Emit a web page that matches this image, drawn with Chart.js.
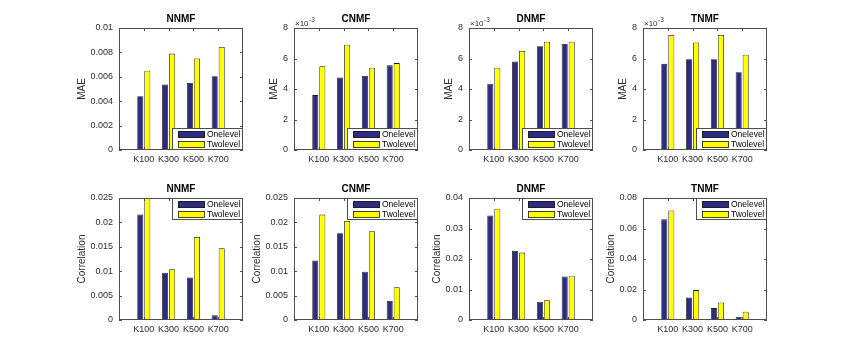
<!DOCTYPE html>
<html>
<head>
<meta charset="utf-8">
<script src="https://cdn.jsdelivr.net/npm/chart.js@4/dist/chart.umd.min.js"></script>
<style>
  html, body { margin: 0; padding: 0; background: #ffffff; }
  #root { position: relative; width: 848px; height: 360px; overflow: hidden; background: #ffffff; }
  #root canvas { position: absolute; }
</style>
</head>
<body>
<div id="root"></div>
<script>
// ---------- data ----------
const categories = ['K100', 'K300', 'K500', 'K700'];
const seriesNames = ['Onelevel', 'Twolevel'];
const methods = ['NNMF', 'CNMF', 'DNMF', 'TNMF'];

const maeOneNNMF = [0.0044, 0.00537, 0.0055, 0.00605];
const maeTwoNNMF = [0.0065, 0.0079, 0.0075, 0.00845];
const maeOneCNMF = [0.0036, 0.00475, 0.00485, 0.00555];
const maeTwoCNMF = [0.0055, 0.0069, 0.0054, 0.0057];
const maeOneDNMF = [0.00435, 0.0058, 0.0068, 0.00695];
const maeTwoDNMF = [0.0054, 0.0065, 0.0071, 0.0071];
const maeOneTNMF = [0.00565, 0.00595, 0.00595, 0.0051];
const maeTwoTNMF = [0.00755, 0.00705, 0.00755, 0.00625];

const corOneNNMF = [0.0216, 0.0097, 0.0087, 0.00095];
const corTwoNNMF = [0.0252, 0.0104, 0.0170, 0.0147];
const corOneCNMF = [0.0122, 0.0178, 0.0099, 0.0039];
const corTwoCNMF = [0.0216, 0.0203, 0.0182, 0.0067];
const corOneDNMF = [0.0343, 0.0226, 0.0060, 0.0143];
const corTwoDNMF = [0.0365, 0.0221, 0.0065, 0.0145];
const corOneTNMF = [0.066, 0.0148, 0.0078, 0.0022];
const corTwoTNMF = [0.0718, 0.0196, 0.0115, 0.0054];

// tick values and their labels
const maeTicksNNMF = [0, 0.002, 0.004, 0.006, 0.008, 0.01];
const maeTickLabelsNNMF = ['0', '0.002', '0.004', '0.006', '0.008', '0.01'];
const maeTicksE3 = [0, 0.002, 0.004, 0.006, 0.008];
const maeTickLabelsE3 = ['0', '2', '4', '6', '8'];
const corTicksSmall = [0, 0.005, 0.01, 0.015, 0.02, 0.025];
const corTickLabelsSmall = ['0', '0.005', '0.01', '0.015', '0.02', '0.025'];
const corTicksDNMF = [0, 0.01, 0.02, 0.03, 0.04];
const corTickLabelsDNMF = ['0', '0.01', '0.02', '0.03', '0.04'];
const corTicksTNMF = [0, 0.02, 0.04, 0.06, 0.08];
const corTickLabelsTNMF = ['0', '0.02', '0.04', '0.06', '0.08'];

const exponentBase = '\u00d710';
const exponentPower = '-3';

// ---------- style / layout ----------
const FONT = '"Liberation Sans", Arial, Helvetica, sans-serif';
const TXT = '#2b2b2b';
const AXC = '#4d4d4d';
const ONE_COLOR = 'rgb(46,43,128)';
const TWO_COLOR = 'rgb(255,255,0)';
const EDGE = '#1a1a1a';

const AXW = 124, AXH = 122;
const colLeft = [119, 294, 469, 643];
const rowTop = [28, 198];
const PADL = 60, PADT = 30, PADR = 6, PADB = 26;

const panels = [
  { row: 0, col: 0, title: methods[0], ylabel: 'MAE', one: maeOneNNMF, two: maeTwoNNMF, ticks: maeTicksNNMF, tickLabels: maeTickLabelsNNMF, exp: false, legend: 'se' },
  { row: 0, col: 1, title: methods[1], ylabel: 'MAE', one: maeOneCNMF, two: maeTwoCNMF, ticks: maeTicksE3, tickLabels: maeTickLabelsE3, exp: true, legend: 'se' },
  { row: 0, col: 2, title: methods[2], ylabel: 'MAE', one: maeOneDNMF, two: maeTwoDNMF, ticks: maeTicksE3, tickLabels: maeTickLabelsE3, exp: true, legend: 'se' },
  { row: 0, col: 3, title: methods[3], ylabel: 'MAE', one: maeOneTNMF, two: maeTwoTNMF, ticks: maeTicksE3, tickLabels: maeTickLabelsE3, exp: true, legend: 'se' },
  { row: 1, col: 0, title: methods[0], ylabel: 'Correlation', one: corOneNNMF, two: corTwoNNMF, ticks: corTicksSmall, tickLabels: corTickLabelsSmall, exp: false, legend: 'ne' },
  { row: 1, col: 1, title: methods[1], ylabel: 'Correlation', one: corOneCNMF, two: corTwoCNMF, ticks: corTicksSmall, tickLabels: corTickLabelsSmall, exp: false, legend: 'ne' },
  { row: 1, col: 2, title: methods[2], ylabel: 'Correlation', one: corOneDNMF, two: corTwoDNMF, ticks: corTicksDNMF, tickLabels: corTickLabelsDNMF, exp: false, legend: 'ne' },
  { row: 1, col: 3, title: methods[3], ylabel: 'Correlation', one: corOneTNMF, two: corTwoTNMF, ticks: corTicksTNMF, tickLabels: corTickLabelsTNMF, exp: false, legend: 'ne' }
];

function matlabPlugin(p) {
  return {
    id: 'matlabAxes' + p.row + p.col,
    afterDraw(chart) {
      const ctx = chart.ctx;
      const a = chart.chartArea;
      const L = a.left, R = a.right, T = a.top, B = a.bottom;
      const xs = chart.scales.x, ys = chart.scales.y;
      ctx.save();
      // axes box
      ctx.strokeStyle = AXC;
      ctx.lineWidth = 1;
      ctx.strokeRect(L + 0.5, T + 0.5, R - L - 1, B - T - 1);
      // inward ticks
      ctx.beginPath();
      p.ticks.forEach(v => {
        const y = Math.round(ys.getPixelForValue(v)) + 0.5;
        ctx.moveTo(L, y); ctx.lineTo(L + 3, y);
        ctx.moveTo(R - 3, y); ctx.lineTo(R, y);
      });
      for (let i = 1; i <= categories.length; i++) {
        const x = Math.round(xs.getPixelForValue(i)) + 0.5;
        ctx.moveTo(x, B); ctx.lineTo(x, B - 3);
        ctx.moveTo(x, T); ctx.lineTo(x, T + 3);
      }
      ctx.stroke();

      // title
      ctx.fillStyle = '#000';
      ctx.font = 'bold 10px ' + FONT;
      ctx.textAlign = 'center';
      ctx.textBaseline = 'middle';
      ctx.fillText(p.title, (L + R) / 2, T - 9);

      // y label
      ctx.font = '10px ' + FONT;
      let maxW = 0;
      ctx.save();
      ctx.font = '9px ' + FONT;
      p.tickLabels.forEach(t => { maxW = Math.max(maxW, ctx.measureText(t).width); });
      ctx.restore();
      const yl = L - (6 + maxW + 3 + 5.5);
      ctx.save();
      ctx.translate(yl, (T + B) / 2);
      ctx.rotate(-Math.PI / 2);
      ctx.fillStyle = TXT;
      ctx.textAlign = 'center';
      ctx.textBaseline = 'middle';
      ctx.fillText(p.ylabel, 0, 0);
      ctx.restore();

      // exponent
      if (p.exp) {
        ctx.fillStyle = TXT;
        ctx.textAlign = 'left';
        ctx.textBaseline = 'alphabetic';
        ctx.font = '8px ' + FONT;
        ctx.fillText(exponentBase, L + 1, T - 2);
        const w = ctx.measureText(exponentBase).width;
        ctx.font = '6.5px ' + FONT;
        ctx.fillText(exponentPower, L + 1 + w + 0.5, T - 6);
      }

      // legend
      const lw = 71, lh = 22;
      const lx = R - lw;
      const ly = p.legend === 'se' ? B - lh : T;
      ctx.fillStyle = '#fff';
      ctx.fillRect(lx, ly, lw, lh);
      ctx.strokeStyle = AXC;
      ctx.lineWidth = 1;
      ctx.strokeRect(Math.round(lx) + 0.5, Math.round(ly) + 0.5, lw - 1, lh - 1);
      const colors = [ONE_COLOR, TWO_COLOR];
      const rows = [ly + 5.8, ly + 15.8];
      ctx.font = '8.5px ' + FONT;
      ctx.textAlign = 'left';
      ctx.textBaseline = 'middle';
      seriesNames.forEach((name, i) => {
        const sx = Math.round(lx + 5.5), sy = Math.round(rows[i] - 3.3);
        ctx.fillStyle = colors[i];
        ctx.fillRect(sx, sy, 27, 7);
        ctx.strokeStyle = EDGE;
        ctx.lineWidth = 0.8;
        ctx.strokeRect(sx + 0.5, sy + 0.5, 26, 6);
        ctx.fillStyle = '#000';
        ctx.fillText(name, sx + 29, rows[i] + 0.5);
      });
      ctx.restore();
    }
  };
}

function makePanel(p) {
  const axL = colLeft[p.col], axT = rowTop[p.row];
  const canvas = document.createElement('canvas');
  canvas.width = PADL + AXW + PADR;
  canvas.height = PADT + AXH + PADB;
  canvas.style.width = canvas.width + 'px';
  canvas.style.height = canvas.height + 'px';
  canvas.style.left = (axL - PADL) + 'px';
  canvas.style.top = (axT - PADT) + 'px';
  document.getElementById('root').appendChild(canvas);

  const barStyle = { borderColor: EDGE, borderWidth: 0.8, categoryPercentage: 0.567, barPercentage: 0.86 };
  new Chart(canvas, {
    type: 'bar',
    data: {
      labels: ['', ...categories, ''],
      datasets: [
        Object.assign({ label: seriesNames[0], data: [null, ...p.one, null], backgroundColor: ONE_COLOR }, barStyle),
        Object.assign({ label: seriesNames[1], data: [null, ...p.two, null], backgroundColor: TWO_COLOR }, barStyle)
      ]
    },
    options: {
      responsive: false,
      animation: false,
      devicePixelRatio: 1,
      layout: { padding: { left: 0, top: PADT, right: PADR, bottom: 0 } },
      plugins: { legend: { display: false }, tooltip: { enabled: false }, title: { display: false } },
      scales: {
        x: {
          type: 'category',
          offset: false,
          grid: { display: false, drawTicks: false },
          border: { display: false },
          ticks: { autoSkip: false, maxRotation: 0, minRotation: 0, padding: 4, color: TXT, font: { family: FONT, size: 9 } },
          afterFit: s => { s.height = PADB; }
        },
        y: {
          min: p.ticks[0],
          max: p.ticks[p.ticks.length - 1],
          grid: { display: false, drawTicks: false },
          border: { display: false },
          ticks: { padding: 6, color: TXT, font: { family: FONT, size: 9 }, callback: (v, i) => p.tickLabels[i] },
          afterBuildTicks: s => { s.ticks = p.ticks.map(v => ({ value: v })); },
          afterFit: s => { s.width = PADL; }
        }
      }
    },
    plugins: [matlabPlugin(p)]
  });
}

panels.forEach(makePanel);
</script>
</body>
</html>
